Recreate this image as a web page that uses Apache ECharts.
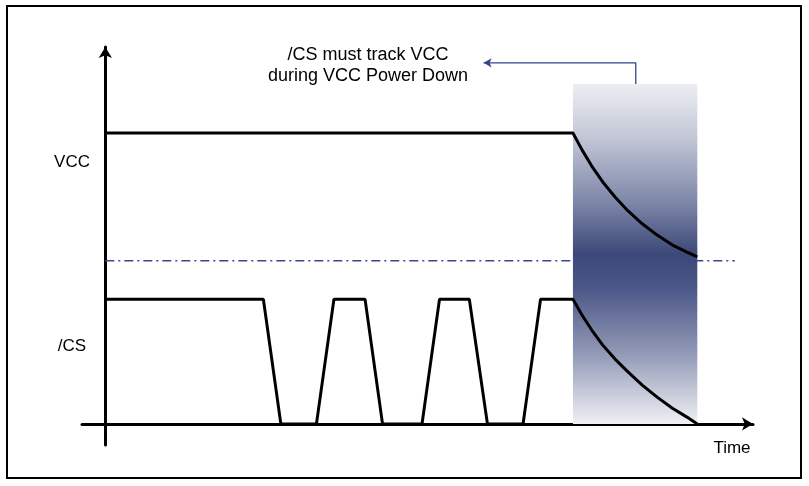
<!DOCTYPE html>
<html>
<head>
<meta charset="utf-8">
<script src="https://cdn.jsdelivr.net/npm/echarts@6/dist/echarts.min.js"></script>
<style>
  html, body { margin: 0; padding: 0; background: #fff; }
  #chart { width: 809px; height: 486px; }
</style>
</head>
<body>
<div id="chart"></div>
<script>
// time / level (arbitrary units)
const timeVcc = [0, 72.2, 73.6, 75.1, 76.8, 78.7, 80.7, 82.9, 85.2, 87.5, 89.8, 91.4]
const levelVcc = [7.72, 7.72, 7.27, 6.84, 6.42, 6.02, 5.65, 5.31, 5.01, 4.75, 4.56, 4.43]

const timeCs = [0, 24.4, 27.1, 32.6, 35.3, 40.1, 42.8, 48.9, 51.6, 56.2, 59.0, 64.5, 67.2,
  72.2, 73.6, 75.1, 76.8, 78.7, 80.7, 82.9, 85.2, 87.5, 89.8, 91.4]
const levelCs = [3.31, 3.31, 0, 0, 3.31, 3.31, 0, 0, 3.31, 3.31, 0, 0, 3.31,
  3.31, 2.89, 2.49, 2.09, 1.72, 1.38, 1.03, 0.71, 0.42, 0.18, 0]

const thresholdTime = [0, 97.2]
const thresholdLevel = [4.33, 4.33]

const powerDownTime = [72.2, 91.4]
const powerDownLevel = [0, 9.02]

const noteTime = [81.9, 81.9, 58.4]
const noteLevel = [9.02, 9.58, 9.58]

const signalNames = ['VCC', '/CS']
const noteLines = ['/CS must track VCC', 'during VCC Power Down']
const axisName = 'Time'

const pairs = (xs, ys) => xs.map((x, i) => [x, ys[i]])

const chart = echarts.init(document.getElementById('chart'))
const font = 'Liberation Sans, Arial, sans-serif'

const noteData = pairs(noteTime, noteLevel)
noteData[noteData.length - 1] = {
  value: noteData[noteData.length - 1],
  symbol: 'arrow',
  symbolSize: [7, 8],
  symbolRotate: 90
}

chart.setOption({
  animation: false,
  grid: { left: 82, right: 56, top: 47, bottom: 41 },
  xAxis: {
    type: 'value',
    min: -3.6,
    max: 100,
    name: axisName,
    nameLocation: 'end',
    nameGap: -21,
    nameTextStyle: {
      fontFamily: font,
      fontSize: 17,
      color: '#000',
      align: 'center',
      verticalAlign: 'top',
      padding: [16, 0, 0, 0]
    },
    axisLine: {
      onZero: true,
      symbol: ['none', 'arrow'],
      symbolSize: [10, 11],
      lineStyle: { color: '#000', width: 3 }
    },
    axisTick: { show: false },
    axisLabel: { show: false },
    splitLine: { show: false }
  },
  yAxis: {
    type: 'value',
    min: -0.56,
    max: 10,
    axisLine: {
      onZero: true,
      symbol: ['none', 'arrow'],
      symbolSize: [10, 11],
      lineStyle: { color: '#000', width: 3 }
    },
    axisTick: { show: false },
    axisLabel: { show: false },
    splitLine: { show: false }
  },
  graphic: [
    {
      type: 'rect',
      shape: { x: 7, y: 6, width: 794, height: 472 },
      style: { fill: 'none', stroke: '#000', lineWidth: 2 },
      silent: true
    },
    {
      type: 'text', x: 368, y: 55,
      style: { text: noteLines[0], font: '18px ' + font, fill: '#000', textAlign: 'center', textVerticalAlign: 'middle' }
    },
    {
      type: 'text', x: 368, y: 76,
      style: { text: noteLines[1], font: '18px ' + font, fill: '#000', textAlign: 'center', textVerticalAlign: 'middle' }
    },
    {
      type: 'text', x: 72, y: 162,
      style: { text: signalNames[0], font: '17px ' + font, fill: '#000', textAlign: 'center', textVerticalAlign: 'middle' }
    },
    {
      type: 'text', x: 72, y: 346,
      style: { text: signalNames[1], font: '17px ' + font, fill: '#000', textAlign: 'center', textVerticalAlign: 'middle' }
    }
  ],
  series: [
    {
      name: 'power down',
      type: 'line',
      z: 1,
      data: [],
      markArea: {
        silent: true,
        itemStyle: {
          color: new echarts.graphic.LinearGradient(0, 0, 0, 1, [
            { offset: 0, color: '#eceef3' },
            { offset: 0.15, color: '#c5c9d8' },
            { offset: 0.35, color: '#7d86a8' },
            { offset: 0.5, color: '#3c4879' },
            { offset: 0.6, color: '#4b5787' },
            { offset: 0.8, color: '#959cb8' },
            { offset: 1, color: '#f0f1f5' }
          ])
        },
        data: [[
          { coord: [powerDownTime[0], powerDownLevel[0]] },
          { coord: [powerDownTime[1], powerDownLevel[1]] }
        ]]
      }
    },
    {
      name: 'threshold',
      type: 'line',
      z: 2,
      symbol: 'none',
      data: pairs(thresholdTime, thresholdLevel),
      lineStyle: { color: '#3a4888', width: 1.5, type: [9, 4, 2, 4] }
    },
    {
      name: 'VCC',
      type: 'line',
      z: 3,
      symbol: 'none',
      data: pairs(timeVcc, levelVcc),
      lineStyle: { color: '#000', width: 3 }
    },
    {
      name: '/CS',
      type: 'line',
      z: 3,
      symbol: 'none',
      data: pairs(timeCs, levelCs),
      lineStyle: { color: '#000', width: 3 }
    },
    {
      name: 'note',
      type: 'line',
      z: 3,
      symbol: 'none',
      data: noteData,
      itemStyle: { color: '#34448a' },
      lineStyle: { color: '#34448a', width: 1.3 }
    }
  ]
})
</script>
</body>
</html>
